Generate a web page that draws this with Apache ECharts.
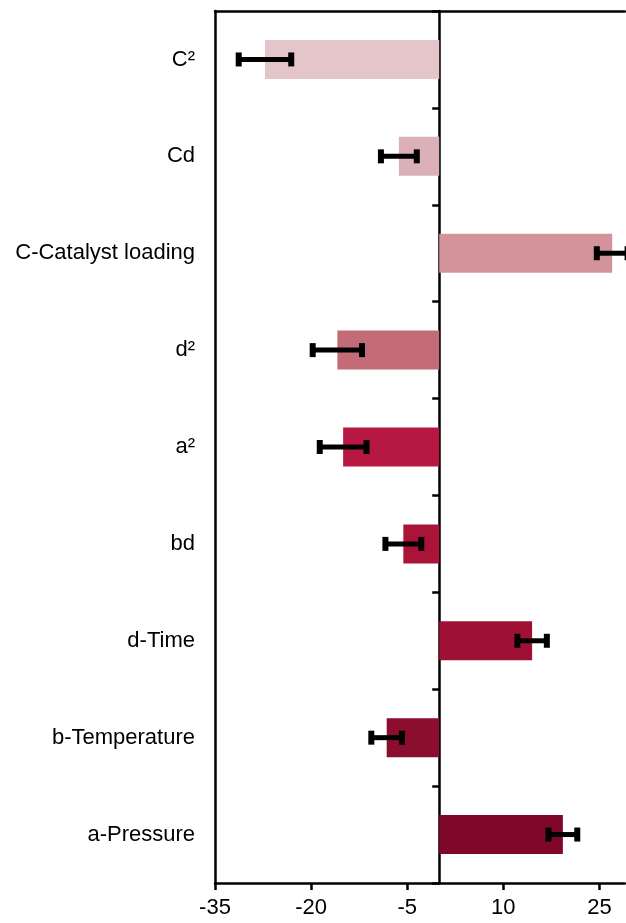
<!DOCTYPE html>
<html>
<head>
<meta charset="utf-8">
<script src="https://cdn.jsdelivr.net/npm/echarts@6/dist/echarts.min.js"></script>
<style>html,body{margin:0;padding:0;background:#fff;}#c{width:626px;height:923px;}</style>
</head>
<body>
<div id="c"></div>
<script>
// Categories, top to bottom
var categories = ['C²', 'Cd', 'C-Catalyst loading', 'd²', 'a²', 'bd', 'd-Time', 'b-Temperature', 'a-Pressure'];
// Effect values
var values = [-27.2, -6.3, 27.0, -15.9, -15.0, -5.6, 14.5, -8.2, 19.3];
// Error (± half-width)
var errors = [4.1, 2.8, 2.4, 3.85, 3.65, 2.8, 2.3, 2.4, 2.25];
// Tick settings
var xMin = -35, xMax = 29, xInterval = 15;

var palette = ['#e3c5ca', '#dbb0b6', '#d3939b', '#c36b76', '#b71842', '#ab1439', '#a01035', '#8b0e2e', '#7f0728'];

var chart = echarts.init(document.getElementById('c'));
var font = '"Liberation Sans", Arial, sans-serif';

var barData = values.map(function (v, i) {
  return { value: v, itemStyle: { color: palette[i] } };
});
var errData = values.map(function (v, i) {
  return [i, v - errors[i], v + errors[i]];
});

chart.setOption({
  animation: false,
  grid: { left: 215, right: 1, top: 11, bottom: 40, containLabel: false },
  xAxis: [{
    type: 'value', min: xMin, max: xMax, interval: xInterval, position: 'bottom',
    axisLine: { show: true, lineStyle: { color: '#000', width: 2.5 } },
    axisTick: { show: true, length: 7, lineStyle: { color: '#000', width: 2.5 } },
    axisLabel: { color: '#000', fontSize: 22, fontFamily: font, margin: 14, showMaxLabel: false },
    splitLine: { show: false }
  }, {
    type: 'value', min: xMin, max: xMax, interval: xInterval, position: 'top',
    axisLine: { show: true, lineStyle: { color: '#000', width: 2.5 } },
    axisTick: { show: false }, axisLabel: { show: false }, splitLine: { show: false }
  }],
  yAxis: [{
    type: 'category', data: categories, inverse: true, position: 'left',
    axisLine: { show: true, onZero: false, lineStyle: { color: '#000', width: 2.5 } },
    axisTick: { show: false },
    axisLabel: { color: '#000', fontSize: 22, fontFamily: font, margin: 20 }
  }, {
    type: 'category', data: categories, inverse: true, position: 'left',
    axisLine: { show: true, onZero: true, onZeroAxisIndex: 0, lineStyle: { color: '#000', width: 2.5 } },
    axisTick: { show: true, length: 7, lineStyle: { color: '#000', width: 2.5 } },
    axisLabel: { show: false }
  }],
  series: [{
    type: 'bar', data: barData, barWidth: 39, xAxisIndex: 0, yAxisIndex: 0, z: 1
  }, {
    type: 'custom', xAxisIndex: 0, yAxisIndex: 0, data: errData, z: 5,
    renderItem: function (params, api) {
      var lo = api.coord([api.value(1), api.value(0)]);
      var hi = api.coord([api.value(2), api.value(0)]);
      var y = lo[1], cap = 7;
      var st = { stroke: '#000', lineWidth: 5 };
      var capSt = { stroke: '#000', lineWidth: 6 };
      return {
        type: 'group',
        children: [
          { type: 'line', shape: { x1: lo[0], y1: y, x2: hi[0], y2: y }, style: st },
          { type: 'line', shape: { x1: lo[0], y1: y - cap, x2: lo[0], y2: y + cap }, style: capSt },
          { type: 'line', shape: { x1: hi[0], y1: y - cap, x2: hi[0], y2: y + cap }, style: capSt }
        ]
      };
    }
  }]
});
</script>
</body>
</html>
